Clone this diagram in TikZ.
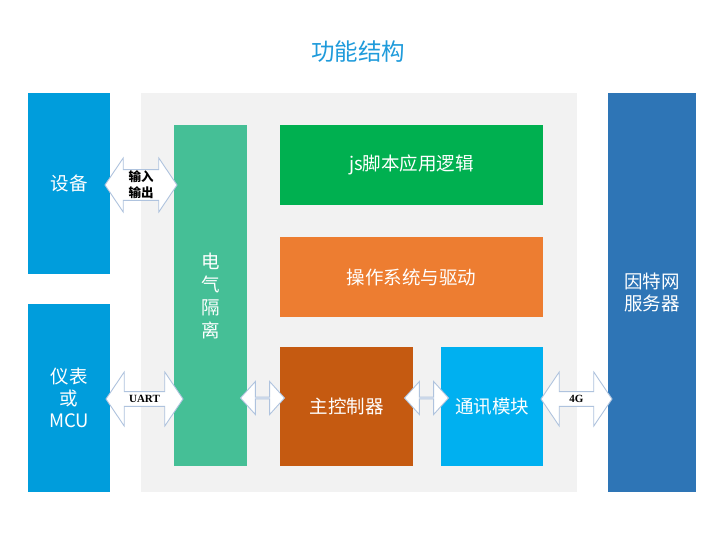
\documentclass[tikz,border=0pt]{standalone}
\usepackage{fontspec}
\setmainfont{Noto Sans CJK SC}
\newfontfamily\lbl{Liberation Serif}
\usetikzlibrary{shapes.arrows}
\definecolor{ttl}{HTML}{1F9BDB}
\definecolor{devc}{HTML}{009DDC}
\definecolor{srvc}{HTML}{2E75B6}
\definecolor{isoc}{HTML}{45BF96}
\definecolor{jsc}{HTML}{00B050}
\definecolor{osc}{HTML}{ED7D31}
\definecolor{mcc}{HTML}{C55A11}
\definecolor{comc}{HTML}{00B0F0}
\definecolor{bgc}{HTML}{F2F2F2}
\definecolor{arrc}{HTML}{AFC3DE}
\tikzset{
  box/.style={draw=none, rectangle, inner sep=0pt, text=white, align=center,
    font=\fontsize{18.5}{22}\selectfont},
  darrow/.style={double arrow, draw=arrc, fill=white, line width=0.9pt, inner sep=0pt,
    align=center, text=black},
}
\begin{document}
\begin{tikzpicture}[x=1pt,y=-1pt]
\useasboundingbox (0,0) rectangle (720,550);
\fill[white] (0,0) rectangle (720,550);
\node[text=ttl, font=\fontsize{23.5}{26}\selectfont] (title) at (358,52) {功能结构};
\node[fill=bgc, minimum width=436pt, minimum height=399pt, inner sep=0pt] (bg) at (359,292.5) {};
\node[box, fill=devc, minimum width=82pt, minimum height=181pt] (dev) at (69,183.5) {设备};
\node[box, fill=devc, minimum width=82pt, minimum height=188pt] (mcu) at (69,398) {仪表\\或\\MCU};
\node[box, fill=srvc, minimum width=88pt, minimum height=399pt] (srv) at (652,292.5) {因特网\\服务器};
\node[box, fill=isoc, minimum width=73pt, minimum height=341pt, font=\fontsize{18.5}{23}\selectfont] (iso) at (210.5,295.5) {电\\气\\隔\\离};
\node[box, fill=jsc, minimum width=263pt, minimum height=80pt] (js) at (411.5,165) {js脚本应用逻辑};
\node[box, fill=osc, minimum width=263pt, minimum height=80pt] (os) at (411.5,277) {操作系统与驱动};
\node[box, fill=mcc, minimum width=133pt, minimum height=119pt] (mc) at (346.5,406.5) {主控制器};
\node[box, fill=comc, minimum width=102pt, minimum height=119pt] (com) at (492,406.5) {通讯模块};
% block arrows
\node[darrow, minimum height=72pt, minimum width=54pt, double arrow head extend=11pt,
  double arrow tip angle=112, font=\bfseries\fontsize{12.5}{16}\selectfont] (io) at (141,185) {输入\\输出};
\node[darrow, minimum height=77pt, minimum width=54pt, double arrow head extend=11pt,
  double arrow tip angle=112, font=\lbl\bfseries\fontsize{11}{13}\selectfont] (uart) at (144.5,399) {UART};
\node[darrow, minimum height=44pt, minimum width=33pt, double arrow head extend=8pt,
  double arrow tip angle=96] (a1) at (262.5,398) {};
\node[darrow, minimum height=44pt, minimum width=33pt, double arrow head extend=8pt,
  double arrow tip angle=96] (a2) at (426.5,398) {};
\node[darrow, minimum height=71pt, minimum width=54pt, double arrow head extend=11pt,
  double arrow tip angle=112, font=\lbl\bfseries\fontsize{11}{13}\selectfont] (g4) at (576.5,399) {4G};
\end{tikzpicture}
\end{document}
